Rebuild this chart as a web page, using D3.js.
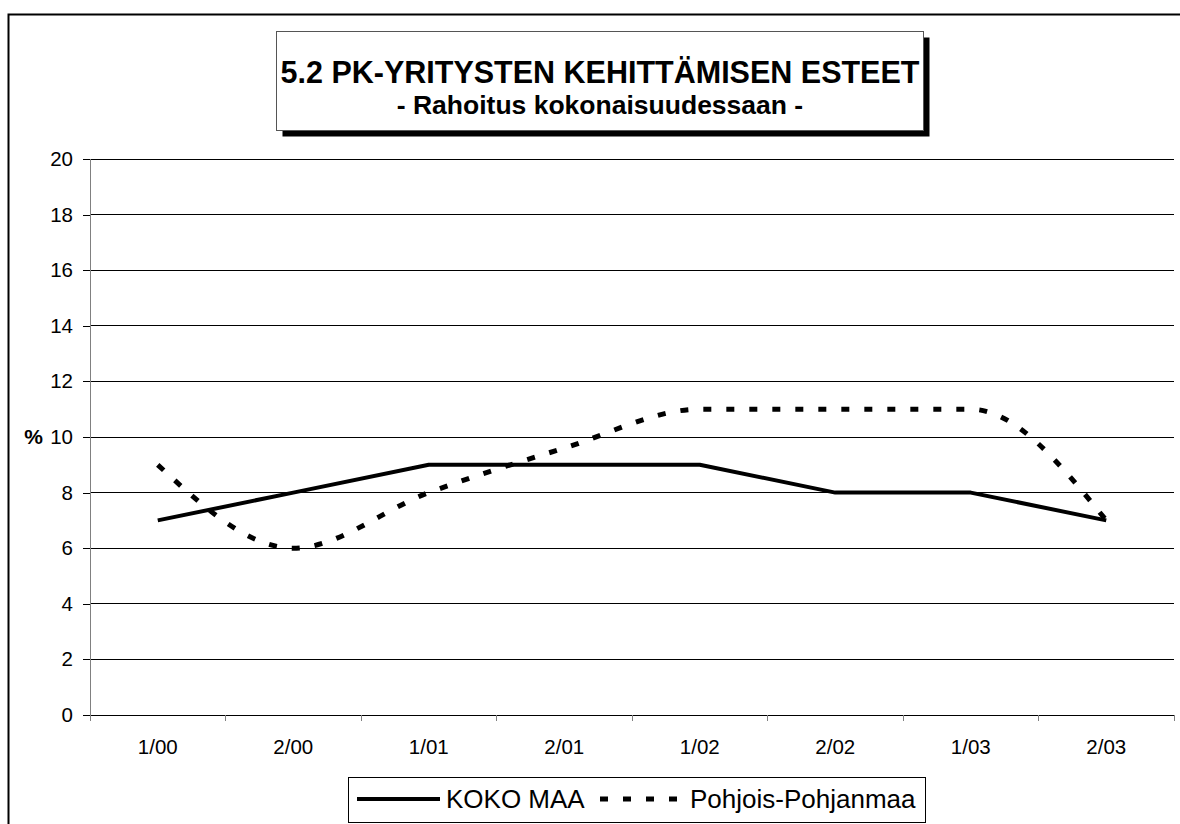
<!DOCTYPE html>
<head>
<meta charset="utf-8">
<title>5.2 PK-yritysten kehittämisen esteet</title>
<script src="https://d3js.org/d3.v7.min.js"></script>
<style>
body { margin: 0; background: #fff; }
text { font-family: Arial, "Liberation Sans", sans-serif; fill: #000; }
.grid line { stroke: #000; stroke-width: 1; shape-rendering: crispEdges; }
.axis path, .axis line { stroke: #808080; stroke-width: 1; shape-rendering: crispEdges; }
.yaxis line { stroke: #000; }
</style>
</head>
<body>
<div id="container"></div>
<script>

//------------------------DATA-------------------------//
var categories = ["1/00", "2/00", "1/01", "2/01", "1/02", "2/02", "1/03", "2/03"];
var kokoMaa = [7, 8, 9, 9, 9, 8, 8, 7];
var pohjoisPohjanmaa = [9, 6, 8, 9.6, 11, 11, 11, 7];
var yTicks = [0, 2, 4, 6, 8, 10, 12, 14, 16, 18, 20];
var seriesNames = ["KOKO MAA", "Pohjois-Pohjanmaa"];

//------------------------SVG--------------------------//
var W = 1180, H = 824;
var margin = {top: 159, right: 6, bottom: 109, left: 90};
var width = W - margin.left - margin.right,
    height = H - margin.top - margin.bottom;

var root = d3.select("#container").append("svg")
    .attr("width", W).attr("height", H);

// outer frame (runs off the picture on right and bottom)
root.append("path")
    .attr("d", "M8.5," + H + " L8.5,14.5 L" + W + ",14.5")
    .attr("fill", "none").attr("stroke", "#000").attr("stroke-width", 2);

var svg = root.append("g")
    .attr("transform", "translate(" + margin.left + "," + margin.top + ")");

//-----------------------SCALES------------------------//
var x = d3.scaleBand().domain(categories).range([0, width]);
var y = d3.scaleLinear().domain([0, 20]).range([height, 0]);

// gridlines
svg.append("g").attr("class", "grid")
  .selectAll("line").data(yTicks).enter().append("line")
    .attr("x1", 0).attr("x2", width)
    .attr("y1", function(d) { return y(d); })
    .attr("y2", function(d) { return y(d); });

//------------------------AXES-------------------------//
var yaxis = d3.axisLeft(y).tickValues(yTicks).tickSize(7).tickPadding(10);
var yg = svg.append("g").attr("class", "axis yaxis").call(yaxis);
yg.select(".domain").remove();
yg.append("line").attr("x1", 0).attr("x2", 0).attr("y1", 0).attr("y2", height + 6)
    .style("stroke", "#808080");
yg.selectAll("text").style("font-size", "20.5px");

var xaxis = d3.axisBottom(x).tickSize(0).tickPadding(24);
var xg = svg.append("g").attr("class", "axis")
    .attr("transform", "translate(0," + height + ")")
    .call(xaxis);
xg.select(".domain").remove();
xg.selectAll("text").style("font-size", "20.5px");
// ticks at band edges
xg.selectAll(".edge").data(d3.range(categories.length + 1)).enter().append("line")
    .attr("class", "edge")
    .attr("x1", function(i) { return i * x.step(); })
    .attr("x2", function(i) { return i * x.step(); })
    .attr("y1", 0).attr("y2", 6);

svg.append("text")
    .attr("x", -47).attr("y", y(10) + 7)
    .attr("text-anchor", "end")
    .style("font-size", "21px").style("font-weight", "bold")
    .text("%");

//------------------------LINES------------------------//
var line = d3.line()
    .x(function(d, i) { return x(categories[i]) + x.bandwidth() / 2; })
    .y(function(d) { return y(d); });

svg.append("path")
    .attr("d", line(kokoMaa))
    .attr("fill", "none").attr("stroke", "#000").attr("stroke-width", 4)
    .attr("stroke-linejoin", "round");

var smooth = d3.line()
    .x(function(d, i) { return x(categories[i]) + x.bandwidth() / 2; })
    .y(function(d) { return y(d); })
    .curve(d3.curveMonotoneX);

svg.append("path")
    .attr("d", smooth(pohjoisPohjanmaa))
    .attr("fill", "none").attr("stroke", "#000").attr("stroke-width", 5)
    .attr("stroke-dasharray", "8,15");

//------------------------TITLE------------------------//
var tb = {x: 276.5, y: 31.5, w: 647, h: 99};
root.append("rect")
    .attr("x", tb.x + 6).attr("y", tb.y + 6).attr("width", tb.w).attr("height", tb.h)
    .attr("fill", "#000");
root.append("rect")
    .attr("x", tb.x).attr("y", tb.y).attr("width", tb.w).attr("height", tb.h)
    .attr("fill", "#fff").attr("stroke", "#555").attr("stroke-width", 1);
root.append("text")
    .attr("x", tb.x + tb.w / 2).attr("y", 83)
    .attr("text-anchor", "middle")
    .style("font-size", "30.5px").style("font-weight", "bold")
    .text("5.2 PK-YRITYSTEN KEHITTÄMISEN ESTEET");
root.append("text")
    .attr("x", tb.x + tb.w / 2).attr("y", 114)
    .attr("text-anchor", "middle")
    .style("font-size", "26.5px").style("font-weight", "bold")
    .text("- Rahoitus kokonaisuudessaan -");

//------------------------LEGEND-----------------------//
var lg = root.append("g");
lg.append("rect")
    .attr("x", 348.5).attr("y", 777.5).attr("width", 577).attr("height", 45)
    .attr("fill", "#fff").attr("stroke", "#000").attr("stroke-width", 1);
lg.append("line")
    .attr("x1", 357).attr("x2", 440).attr("y1", 799).attr("y2", 799)
    .attr("stroke", "#000").attr("stroke-width", 4);
lg.append("text").attr("x", 446).attr("y", 808)
    .style("font-size", "26px").text(seriesNames[0]);
lg.append("line")
    .attr("x1", 600).attr("x2", 684).attr("y1", 799).attr("y2", 799)
    .attr("stroke", "#000").attr("stroke-width", 5)
    .attr("stroke-dasharray", "8,15");
lg.append("text").attr("x", 690).attr("y", 808)
    .style("font-size", "26px").text(seriesNames[1]);

</script>
</body>
